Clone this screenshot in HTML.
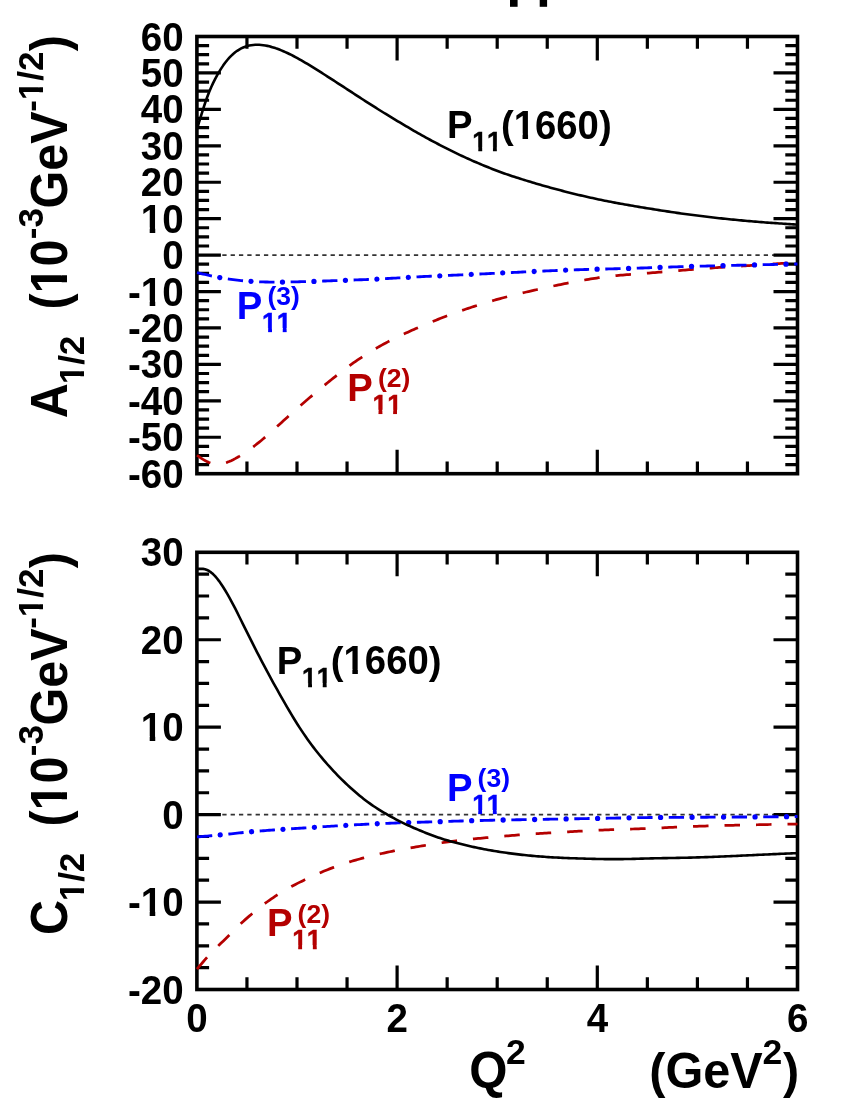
<!DOCTYPE html>
<html><head><meta charset="utf-8"><title>plot</title>
<style>
html,body{margin:0;padding:0;background:#fff;}
svg{display:block;will-change:transform;font-family:"Liberation Sans",sans-serif;font-weight:bold;font-kerning:none;}
</style></head><body>
<svg width="850" height="1100" viewBox="0 0 850 1100">
<rect width="850" height="1100" fill="#fff"/>
<path d="M196.9 255.10H797.5" stroke="#333" stroke-width="1.6" stroke-dasharray="4.3 4.03" stroke-dashoffset="-0.4" fill="none"/>
<path d="M196.9 814.62H797.5" stroke="#333" stroke-width="1.6" stroke-dasharray="4.3 4.03" stroke-dashoffset="-0.4" fill="none"/>
<rect x="196.9" y="36.5" width="600.6" height="437.2" fill="none" stroke="#000" stroke-width="3.6"/>
<path d="M196.9 45.61h12.2M797.5 45.61h-12.2M196.9 54.72h12.2M797.5 54.72h-12.2M196.9 63.83h12.2M797.5 63.83h-12.2M196.9 72.93h24.0M797.5 72.93h-24.0M196.9 82.04h12.2M797.5 82.04h-12.2M196.9 91.15h12.2M797.5 91.15h-12.2M196.9 100.26h12.2M797.5 100.26h-12.2M196.9 109.37h24.0M797.5 109.37h-24.0M196.9 118.47h12.2M797.5 118.47h-12.2M196.9 127.58h12.2M797.5 127.58h-12.2M196.9 136.69h12.2M797.5 136.69h-12.2M196.9 145.80h24.0M797.5 145.80h-24.0M196.9 154.91h12.2M797.5 154.91h-12.2M196.9 164.02h12.2M797.5 164.02h-12.2M196.9 173.12h12.2M797.5 173.12h-12.2M196.9 182.23h24.0M797.5 182.23h-24.0M196.9 191.34h12.2M797.5 191.34h-12.2M196.9 200.45h12.2M797.5 200.45h-12.2M196.9 209.56h12.2M797.5 209.56h-12.2M196.9 218.67h24.0M797.5 218.67h-24.0M196.9 227.77h12.2M797.5 227.77h-12.2M196.9 236.88h12.2M797.5 236.88h-12.2M196.9 245.99h12.2M797.5 245.99h-12.2M196.9 255.10h24.0M797.5 255.10h-24.0M196.9 264.21h12.2M797.5 264.21h-12.2M196.9 273.32h12.2M797.5 273.32h-12.2M196.9 282.42h12.2M797.5 282.42h-12.2M196.9 291.53h24.0M797.5 291.53h-24.0M196.9 300.64h12.2M797.5 300.64h-12.2M196.9 309.75h12.2M797.5 309.75h-12.2M196.9 318.86h12.2M797.5 318.86h-12.2M196.9 327.97h24.0M797.5 327.97h-24.0M196.9 337.07h12.2M797.5 337.07h-12.2M196.9 346.18h12.2M797.5 346.18h-12.2M196.9 355.29h12.2M797.5 355.29h-12.2M196.9 364.40h24.0M797.5 364.40h-24.0M196.9 373.51h12.2M797.5 373.51h-12.2M196.9 382.62h12.2M797.5 382.62h-12.2M196.9 391.72h12.2M797.5 391.72h-12.2M196.9 400.83h24.0M797.5 400.83h-24.0M196.9 409.94h12.2M797.5 409.94h-12.2M196.9 419.05h12.2M797.5 419.05h-12.2M196.9 428.16h12.2M797.5 428.16h-12.2M196.9 437.27h24.0M797.5 437.27h-24.0M196.9 446.38h12.2M797.5 446.38h-12.2M196.9 455.48h12.2M797.5 455.48h-12.2M196.9 464.59h12.2M797.5 464.59h-12.2M246.95 36.5v12.2M246.95 473.7v-12.2M297.00 36.5v12.2M297.00 473.7v-12.2M347.05 36.5v12.2M347.05 473.7v-12.2M397.10 36.5v24.0M397.10 473.7v-24.0M447.15 36.5v12.2M447.15 473.7v-12.2M497.20 36.5v12.2M497.20 473.7v-12.2M547.25 36.5v12.2M547.25 473.7v-12.2M597.30 36.5v24.0M597.30 473.7v-24.0M647.35 36.5v12.2M647.35 473.7v-12.2M697.40 36.5v12.2M697.40 473.7v-12.2M747.45 36.5v12.2M747.45 473.7v-12.2" stroke="#000" stroke-width="3.2" fill="none"/>
<rect x="196.9" y="552.3" width="600.6" height="437.20000000000005" fill="none" stroke="#000" stroke-width="3.6"/>
<path d="M196.9 574.16h12.2M797.5 574.16h-12.2M196.9 596.02h12.2M797.5 596.02h-12.2M196.9 617.88h12.2M797.5 617.88h-12.2M196.9 639.74h24.0M797.5 639.74h-24.0M196.9 661.60h12.2M797.5 661.60h-12.2M196.9 683.46h12.2M797.5 683.46h-12.2M196.9 705.32h12.2M797.5 705.32h-12.2M196.9 727.18h24.0M797.5 727.18h-24.0M196.9 749.04h12.2M797.5 749.04h-12.2M196.9 770.90h12.2M797.5 770.90h-12.2M196.9 792.76h12.2M797.5 792.76h-12.2M196.9 814.62h24.0M797.5 814.62h-24.0M196.9 836.48h12.2M797.5 836.48h-12.2M196.9 858.34h12.2M797.5 858.34h-12.2M196.9 880.20h12.2M797.5 880.20h-12.2M196.9 902.06h24.0M797.5 902.06h-24.0M196.9 923.92h12.2M797.5 923.92h-12.2M196.9 945.78h12.2M797.5 945.78h-12.2M196.9 967.64h12.2M797.5 967.64h-12.2M246.95 552.3v12.2M246.95 989.5v-12.2M297.00 552.3v12.2M297.00 989.5v-12.2M347.05 552.3v12.2M347.05 989.5v-12.2M397.10 552.3v24.0M397.10 989.5v-24.0M447.15 552.3v12.2M447.15 989.5v-12.2M497.20 552.3v12.2M497.20 989.5v-12.2M547.25 552.3v12.2M547.25 989.5v-12.2M597.30 552.3v24.0M597.30 989.5v-24.0M647.35 552.3v12.2M647.35 989.5v-12.2M697.40 552.3v12.2M697.40 989.5v-12.2M747.45 552.3v12.2M747.45 989.5v-12.2" stroke="#000" stroke-width="3.2" fill="none"/>
<clipPath id="cu"><rect x="195.4" y="36.5" width="603.6" height="437.2"/></clipPath>
<clipPath id="cl"><rect x="195.4" y="552.3" width="603.6" height="437.20000000000005"/></clipPath>
<g clip-path="url(#cu)">
<path d="M197.00 455.25 L199.01 456.69 L201.02 458.08 L203.03 459.39 L205.03 460.58 L207.04 461.63 L209.05 462.52 L211.06 463.22 L213.07 463.74 L215.08 464.07 L217.08 464.21 L219.09 464.16 L221.10 463.94 L223.11 463.55 L225.12 463.01 L227.13 462.33 L229.13 461.54 L231.14 460.64 L233.15 459.67 L235.16 458.63 L237.17 457.53 L239.18 456.37 L241.18 455.15 L243.19 453.89 L245.20 452.57 L247.21 451.20 L249.22 449.79 L251.23 448.33 L253.23 446.83 L255.24 445.28 L257.25 443.70 L259.26 442.09 L261.27 440.44 L263.28 438.75 L265.28 437.04 L267.29 435.30 L269.30 433.54 L271.31 431.76 L273.32 429.96 L275.33 428.15 L277.33 426.33 L279.34 424.50 L281.35 422.67 L283.36 420.84 L285.37 419.01 L287.38 417.19 L289.38 415.37 L291.39 413.55 L293.40 411.75 L295.41 409.96 L297.42 408.18 L299.43 406.42 L301.43 404.67 L303.44 402.94 L305.45 401.22 L307.46 399.52 L309.47 397.82 L311.48 396.12 L313.48 394.43 L315.49 392.75 L317.50 391.07 L319.51 389.39 L321.52 387.72 L323.53 386.06 L325.54 384.41 L327.54 382.77 L329.55 381.14 L331.56 379.52 L333.57 377.91 L335.58 376.32 L337.59 374.73 L339.59 373.17 L341.60 371.61 L343.61 370.08 L345.62 368.56 L347.63 367.07 L349.64 365.60 L351.64 364.16 L353.65 362.74 L355.66 361.34 L357.67 359.97 L359.68 358.62 L361.69 357.29 L363.69 355.98 L365.70 354.69 L367.71 353.43 L369.72 352.19 L371.73 350.96 L373.74 349.76 L375.74 348.57 L377.75 347.40 L379.76 346.25 L381.77 345.12 L383.78 344.02 L385.79 342.93 L387.79 341.86 L389.80 340.82 L391.81 339.80 L393.82 338.79 L395.83 337.81 L397.84 336.84 L399.84 335.88 L401.85 334.94 L403.86 334.01 L405.87 333.08 L407.88 332.17 L409.89 331.26 L411.89 330.36 L413.90 329.48 L415.91 328.59 L417.92 327.72 L419.93 326.85 L421.94 325.99 L423.94 325.14 L425.95 324.30 L427.96 323.46 L429.97 322.63 L431.98 321.80 L433.99 320.98 L435.99 320.17 L438.00 319.37 L440.01 318.57 L442.02 317.78 L444.03 317.00 L446.04 316.23 L448.05 315.47 L450.05 314.72 L452.06 313.98 L454.07 313.25 L456.08 312.53 L458.09 311.81 L460.10 311.11 L462.10 310.41 L464.11 309.72 L466.12 309.04 L468.13 308.37 L470.14 307.70 L472.15 307.04 L474.15 306.39 L476.16 305.75 L478.17 305.11 L480.18 304.48 L482.19 303.85 L484.20 303.23 L486.20 302.62 L488.21 302.02 L490.22 301.43 L492.23 300.84 L494.24 300.26 L496.25 299.69 L498.25 299.13 L500.26 298.58 L502.27 298.03 L504.28 297.49 L506.29 296.96 L508.30 296.44 L510.30 295.92 L512.31 295.41 L514.32 294.91 L516.33 294.41 L518.34 293.92 L520.35 293.44 L522.35 292.96 L524.36 292.48 L526.37 292.01 L528.38 291.54 L530.39 291.08 L532.40 290.62 L534.40 290.17 L536.41 289.72 L538.42 289.26 L540.43 288.82 L542.44 288.37 L544.45 287.93 L546.45 287.49 L548.46 287.05 L550.47 286.62 L552.48 286.19 L554.49 285.77 L556.50 285.35 L558.51 284.93 L560.51 284.53 L562.52 284.12 L564.53 283.72 L566.54 283.33 L568.55 282.94 L570.56 282.56 L572.56 282.18 L574.57 281.81 L576.58 281.44 L578.59 281.07 L580.60 280.71 L582.61 280.36 L584.61 280.00 L586.62 279.66 L588.63 279.31 L590.64 278.98 L592.65 278.65 L594.66 278.33 L596.66 278.02 L598.67 277.72 L600.68 277.44 L602.69 277.16 L604.70 276.90 L606.71 276.65 L608.71 276.41 L610.72 276.18 L612.73 275.97 L614.74 275.76 L616.75 275.56 L618.76 275.38 L620.76 275.20 L622.77 275.03 L624.78 274.86 L626.79 274.70 L628.80 274.55 L630.81 274.39 L632.81 274.24 L634.82 274.08 L636.83 273.93 L638.84 273.78 L640.85 273.63 L642.86 273.47 L644.86 273.32 L646.87 273.16 L648.88 273.01 L650.89 272.85 L652.90 272.69 L654.91 272.52 L656.91 272.36 L658.92 272.20 L660.93 272.03 L662.94 271.86 L664.95 271.69 L666.96 271.53 L668.96 271.36 L670.97 271.19 L672.98 271.02 L674.99 270.85 L677.00 270.68 L679.01 270.52 L681.02 270.35 L683.02 270.19 L685.03 270.03 L687.04 269.87 L689.05 269.71 L691.06 269.55 L693.07 269.39 L695.07 269.24 L697.08 269.08 L699.09 268.93 L701.10 268.78 L703.11 268.63 L705.12 268.48 L707.12 268.33 L709.13 268.18 L711.14 268.04 L713.15 267.89 L715.16 267.75 L717.17 267.61 L719.17 267.47 L721.18 267.34 L723.19 267.20 L725.20 267.07 L727.21 266.94 L729.22 266.82 L731.22 266.69 L733.23 266.57 L735.24 266.45 L737.25 266.33 L739.26 266.21 L741.27 266.08 L743.27 265.96 L745.28 265.83 L747.29 265.70 L749.30 265.58 L751.31 265.45 L753.32 265.31 L755.32 265.18 L757.33 265.05 L759.34 264.92 L761.35 264.78 L763.36 264.65 L765.37 264.52 L767.37 264.38 L769.38 264.25 L771.39 264.12 L773.40 263.98 L775.41 263.85 L777.42 263.72 L779.42 263.60 L781.43 263.47 L783.44 263.34 L785.45 263.22 L787.46 263.10 L789.47 262.97 L791.47 262.85 L793.48 262.73 L795.49 262.62 L797.50 262.50" stroke="#b40000" stroke-width="2.75" stroke-dasharray="15.5 16" fill="none" stroke-linejoin="round"/>
<path d="M197.00 272.61 L199.01 273.09 L201.02 273.56 L203.03 274.02 L205.03 274.48 L207.04 274.94 L209.05 275.39 L211.06 275.83 L213.07 276.25 L215.08 276.67 L217.08 277.07 L219.09 277.46 L221.10 277.83 L223.11 278.18 L225.12 278.51 L227.13 278.83 L229.13 279.13 L231.14 279.42 L233.15 279.69 L235.16 279.94 L237.17 280.18 L239.18 280.40 L241.18 280.61 L243.19 280.80 L245.20 280.97 L247.21 281.14 L249.22 281.28 L251.23 281.42 L253.23 281.54 L255.24 281.64 L257.25 281.74 L259.26 281.82 L261.27 281.89 L263.28 281.94 L265.28 281.99 L267.29 282.03 L269.30 282.06 L271.31 282.08 L273.32 282.09 L275.33 282.10 L277.33 282.10 L279.34 282.09 L281.35 282.07 L283.36 282.05 L285.37 282.03 L287.38 282.00 L289.38 281.97 L291.39 281.93 L293.40 281.89 L295.41 281.85 L297.42 281.80 L299.43 281.76 L301.43 281.70 L303.44 281.65 L305.45 281.59 L307.46 281.53 L309.47 281.47 L311.48 281.41 L313.48 281.35 L315.49 281.29 L317.50 281.22 L319.51 281.16 L321.52 281.09 L323.53 281.02 L325.54 280.96 L327.54 280.89 L329.55 280.82 L331.56 280.75 L333.57 280.69 L335.58 280.62 L337.59 280.55 L339.59 280.48 L341.60 280.41 L343.61 280.34 L345.62 280.28 L347.63 280.21 L349.64 280.14 L351.64 280.07 L353.65 280.00 L355.66 279.94 L357.67 279.87 L359.68 279.79 L361.69 279.72 L363.69 279.65 L365.70 279.57 L367.71 279.49 L369.72 279.41 L371.73 279.32 L373.74 279.23 L375.74 279.14 L377.75 279.04 L379.76 278.94 L381.77 278.84 L383.78 278.73 L385.79 278.62 L387.79 278.51 L389.80 278.40 L391.81 278.28 L393.82 278.16 L395.83 278.05 L397.84 277.93 L399.84 277.81 L401.85 277.70 L403.86 277.58 L405.87 277.47 L407.88 277.35 L409.89 277.24 L411.89 277.13 L413.90 277.03 L415.91 276.92 L417.92 276.82 L419.93 276.72 L421.94 276.62 L423.94 276.53 L425.95 276.43 L427.96 276.34 L429.97 276.24 L431.98 276.15 L433.99 276.06 L435.99 275.97 L438.00 275.88 L440.01 275.79 L442.02 275.70 L444.03 275.61 L446.04 275.52 L448.05 275.43 L450.05 275.34 L452.06 275.25 L454.07 275.17 L456.08 275.08 L458.09 274.99 L460.10 274.90 L462.10 274.81 L464.11 274.72 L466.12 274.63 L468.13 274.54 L470.14 274.45 L472.15 274.36 L474.15 274.27 L476.16 274.17 L478.17 274.08 L480.18 273.99 L482.19 273.89 L484.20 273.80 L486.20 273.71 L488.21 273.61 L490.22 273.52 L492.23 273.42 L494.24 273.33 L496.25 273.24 L498.25 273.14 L500.26 273.05 L502.27 272.95 L504.28 272.86 L506.29 272.77 L508.30 272.67 L510.30 272.58 L512.31 272.49 L514.32 272.40 L516.33 272.30 L518.34 272.21 L520.35 272.12 L522.35 272.03 L524.36 271.93 L526.37 271.84 L528.38 271.75 L530.39 271.66 L532.40 271.57 L534.40 271.48 L536.41 271.39 L538.42 271.30 L540.43 271.21 L542.44 271.12 L544.45 271.03 L546.45 270.94 L548.46 270.85 L550.47 270.76 L552.48 270.68 L554.49 270.59 L556.50 270.51 L558.51 270.43 L560.51 270.35 L562.52 270.27 L564.53 270.20 L566.54 270.12 L568.55 270.05 L570.56 269.98 L572.56 269.91 L574.57 269.85 L576.58 269.78 L578.59 269.72 L580.60 269.66 L582.61 269.60 L584.61 269.54 L586.62 269.49 L588.63 269.43 L590.64 269.38 L592.65 269.33 L594.66 269.27 L596.66 269.22 L598.67 269.17 L600.68 269.12 L602.69 269.07 L604.70 269.03 L606.71 268.98 L608.71 268.93 L610.72 268.88 L612.73 268.84 L614.74 268.79 L616.75 268.74 L618.76 268.69 L620.76 268.64 L622.77 268.59 L624.78 268.53 L626.79 268.48 L628.80 268.42 L630.81 268.36 L632.81 268.30 L634.82 268.23 L636.83 268.16 L638.84 268.10 L640.85 268.03 L642.86 267.96 L644.86 267.89 L646.87 267.82 L648.88 267.75 L650.89 267.67 L652.90 267.60 L654.91 267.53 L656.91 267.46 L658.92 267.39 L660.93 267.32 L662.94 267.26 L664.95 267.19 L666.96 267.13 L668.96 267.06 L670.97 267.00 L672.98 266.94 L674.99 266.88 L677.00 266.82 L679.01 266.76 L681.02 266.70 L683.02 266.64 L685.03 266.58 L687.04 266.53 L689.05 266.47 L691.06 266.42 L693.07 266.36 L695.07 266.31 L697.08 266.25 L699.09 266.20 L701.10 266.15 L703.11 266.10 L705.12 266.05 L707.12 265.99 L709.13 265.94 L711.14 265.89 L713.15 265.84 L715.16 265.80 L717.17 265.75 L719.17 265.70 L721.18 265.65 L723.19 265.60 L725.20 265.56 L727.21 265.51 L729.22 265.46 L731.22 265.42 L733.23 265.37 L735.24 265.32 L737.25 265.28 L739.26 265.23 L741.27 265.19 L743.27 265.14 L745.28 265.10 L747.29 265.05 L749.30 265.01 L751.31 264.96 L753.32 264.92 L755.32 264.88 L757.33 264.83 L759.34 264.79 L761.35 264.74 L763.36 264.70 L765.37 264.66 L767.37 264.61 L769.38 264.57 L771.39 264.53 L773.40 264.48 L775.41 264.44 L777.42 264.40 L779.42 264.36 L781.43 264.32 L783.44 264.27 L785.45 264.23 L787.46 264.19 L789.47 264.15 L791.47 264.12 L793.48 264.08 L795.49 264.04 L797.50 264.00" stroke="#0000ff" stroke-width="2.85" stroke-dasharray="15.3 16.19" fill="none" stroke-linejoin="round"/>
<path d="M197.00 272.61 L199.01 273.09 L201.02 273.56 L203.03 274.02 L205.03 274.48 L207.04 274.94 L209.05 275.39 L211.06 275.83 L213.07 276.25 L215.08 276.67 L217.08 277.07 L219.09 277.46 L221.10 277.83 L223.11 278.18 L225.12 278.51 L227.13 278.83 L229.13 279.13 L231.14 279.42 L233.15 279.69 L235.16 279.94 L237.17 280.18 L239.18 280.40 L241.18 280.61 L243.19 280.80 L245.20 280.97 L247.21 281.14 L249.22 281.28 L251.23 281.42 L253.23 281.54 L255.24 281.64 L257.25 281.74 L259.26 281.82 L261.27 281.89 L263.28 281.94 L265.28 281.99 L267.29 282.03 L269.30 282.06 L271.31 282.08 L273.32 282.09 L275.33 282.10 L277.33 282.10 L279.34 282.09 L281.35 282.07 L283.36 282.05 L285.37 282.03 L287.38 282.00 L289.38 281.97 L291.39 281.93 L293.40 281.89 L295.41 281.85 L297.42 281.80 L299.43 281.76 L301.43 281.70 L303.44 281.65 L305.45 281.59 L307.46 281.53 L309.47 281.47 L311.48 281.41 L313.48 281.35 L315.49 281.29 L317.50 281.22 L319.51 281.16 L321.52 281.09 L323.53 281.02 L325.54 280.96 L327.54 280.89 L329.55 280.82 L331.56 280.75 L333.57 280.69 L335.58 280.62 L337.59 280.55 L339.59 280.48 L341.60 280.41 L343.61 280.34 L345.62 280.28 L347.63 280.21 L349.64 280.14 L351.64 280.07 L353.65 280.00 L355.66 279.94 L357.67 279.87 L359.68 279.79 L361.69 279.72 L363.69 279.65 L365.70 279.57 L367.71 279.49 L369.72 279.41 L371.73 279.32 L373.74 279.23 L375.74 279.14 L377.75 279.04 L379.76 278.94 L381.77 278.84 L383.78 278.73 L385.79 278.62 L387.79 278.51 L389.80 278.40 L391.81 278.28 L393.82 278.16 L395.83 278.05 L397.84 277.93 L399.84 277.81 L401.85 277.70 L403.86 277.58 L405.87 277.47 L407.88 277.35 L409.89 277.24 L411.89 277.13 L413.90 277.03 L415.91 276.92 L417.92 276.82 L419.93 276.72 L421.94 276.62 L423.94 276.53 L425.95 276.43 L427.96 276.34 L429.97 276.24 L431.98 276.15 L433.99 276.06 L435.99 275.97 L438.00 275.88 L440.01 275.79 L442.02 275.70 L444.03 275.61 L446.04 275.52 L448.05 275.43 L450.05 275.34 L452.06 275.25 L454.07 275.17 L456.08 275.08 L458.09 274.99 L460.10 274.90 L462.10 274.81 L464.11 274.72 L466.12 274.63 L468.13 274.54 L470.14 274.45 L472.15 274.36 L474.15 274.27 L476.16 274.17 L478.17 274.08 L480.18 273.99 L482.19 273.89 L484.20 273.80 L486.20 273.71 L488.21 273.61 L490.22 273.52 L492.23 273.42 L494.24 273.33 L496.25 273.24 L498.25 273.14 L500.26 273.05 L502.27 272.95 L504.28 272.86 L506.29 272.77 L508.30 272.67 L510.30 272.58 L512.31 272.49 L514.32 272.40 L516.33 272.30 L518.34 272.21 L520.35 272.12 L522.35 272.03 L524.36 271.93 L526.37 271.84 L528.38 271.75 L530.39 271.66 L532.40 271.57 L534.40 271.48 L536.41 271.39 L538.42 271.30 L540.43 271.21 L542.44 271.12 L544.45 271.03 L546.45 270.94 L548.46 270.85 L550.47 270.76 L552.48 270.68 L554.49 270.59 L556.50 270.51 L558.51 270.43 L560.51 270.35 L562.52 270.27 L564.53 270.20 L566.54 270.12 L568.55 270.05 L570.56 269.98 L572.56 269.91 L574.57 269.85 L576.58 269.78 L578.59 269.72 L580.60 269.66 L582.61 269.60 L584.61 269.54 L586.62 269.49 L588.63 269.43 L590.64 269.38 L592.65 269.33 L594.66 269.27 L596.66 269.22 L598.67 269.17 L600.68 269.12 L602.69 269.07 L604.70 269.03 L606.71 268.98 L608.71 268.93 L610.72 268.88 L612.73 268.84 L614.74 268.79 L616.75 268.74 L618.76 268.69 L620.76 268.64 L622.77 268.59 L624.78 268.53 L626.79 268.48 L628.80 268.42 L630.81 268.36 L632.81 268.30 L634.82 268.23 L636.83 268.16 L638.84 268.10 L640.85 268.03 L642.86 267.96 L644.86 267.89 L646.87 267.82 L648.88 267.75 L650.89 267.67 L652.90 267.60 L654.91 267.53 L656.91 267.46 L658.92 267.39 L660.93 267.32 L662.94 267.26 L664.95 267.19 L666.96 267.13 L668.96 267.06 L670.97 267.00 L672.98 266.94 L674.99 266.88 L677.00 266.82 L679.01 266.76 L681.02 266.70 L683.02 266.64 L685.03 266.58 L687.04 266.53 L689.05 266.47 L691.06 266.42 L693.07 266.36 L695.07 266.31 L697.08 266.25 L699.09 266.20 L701.10 266.15 L703.11 266.10 L705.12 266.05 L707.12 265.99 L709.13 265.94 L711.14 265.89 L713.15 265.84 L715.16 265.80 L717.17 265.75 L719.17 265.70 L721.18 265.65 L723.19 265.60 L725.20 265.56 L727.21 265.51 L729.22 265.46 L731.22 265.42 L733.23 265.37 L735.24 265.32 L737.25 265.28 L739.26 265.23 L741.27 265.19 L743.27 265.14 L745.28 265.10 L747.29 265.05 L749.30 265.01 L751.31 264.96 L753.32 264.92 L755.32 264.88 L757.33 264.83 L759.34 264.79 L761.35 264.74 L763.36 264.70 L765.37 264.66 L767.37 264.61 L769.38 264.57 L771.39 264.53 L773.40 264.48 L775.41 264.44 L777.42 264.40 L779.42 264.36 L781.43 264.32 L783.44 264.27 L785.45 264.23 L787.46 264.19 L789.47 264.15 L791.47 264.12 L793.48 264.08 L795.49 264.04 L797.50 264.00" stroke="#0000ff" stroke-width="5.3" stroke-linecap="round" stroke-dasharray="0.01 31.48" stroke-dashoffset="-23.3" fill="none"/>
<path d="M197.00 129.19 L199.01 122.47 L201.02 115.82 L203.03 109.37 L205.03 103.25 L207.04 97.55 L209.05 92.29 L211.06 87.50 L213.07 83.12 L215.08 79.09 L217.08 75.35 L219.09 71.87 L221.10 68.63 L223.11 65.61 L225.12 62.82 L227.13 60.26 L229.13 57.94 L231.14 55.84 L233.15 53.96 L235.16 52.29 L237.17 50.81 L239.18 49.53 L241.18 48.42 L243.19 47.48 L245.20 46.70 L247.21 46.06 L249.22 45.56 L251.23 45.18 L253.23 44.93 L255.24 44.78 L257.25 44.74 L259.26 44.79 L261.27 44.94 L263.28 45.18 L265.28 45.49 L267.29 45.89 L269.30 46.35 L271.31 46.88 L273.32 47.46 L275.33 48.11 L277.33 48.81 L279.34 49.56 L281.35 50.36 L283.36 51.20 L285.37 52.08 L287.38 53.00 L289.38 53.96 L291.39 54.96 L293.40 55.99 L295.41 57.06 L297.42 58.15 L299.43 59.27 L301.43 60.41 L303.44 61.58 L305.45 62.77 L307.46 63.97 L309.47 65.19 L311.48 66.42 L313.48 67.66 L315.49 68.91 L317.50 70.17 L319.51 71.43 L321.52 72.70 L323.53 73.98 L325.54 75.26 L327.54 76.55 L329.55 77.84 L331.56 79.14 L333.57 80.43 L335.58 81.74 L337.59 83.04 L339.59 84.35 L341.60 85.65 L343.61 86.96 L345.62 88.27 L347.63 89.58 L349.64 90.89 L351.64 92.20 L353.65 93.51 L355.66 94.81 L357.67 96.12 L359.68 97.42 L361.69 98.72 L363.69 100.02 L365.70 101.31 L367.71 102.60 L369.72 103.89 L371.73 105.17 L373.74 106.45 L375.74 107.72 L377.75 108.99 L379.76 110.25 L381.77 111.50 L383.78 112.74 L385.79 113.98 L387.79 115.21 L389.80 116.43 L391.81 117.65 L393.82 118.85 L395.83 120.06 L397.84 121.26 L399.84 122.45 L401.85 123.65 L403.86 124.84 L405.87 126.04 L407.88 127.23 L409.89 128.41 L411.89 129.59 L413.90 130.76 L415.91 131.91 L417.92 133.06 L419.93 134.20 L421.94 135.33 L423.94 136.44 L425.95 137.55 L427.96 138.65 L429.97 139.74 L431.98 140.82 L433.99 141.89 L435.99 142.96 L438.00 144.02 L440.01 145.07 L442.02 146.11 L444.03 147.15 L446.04 148.18 L448.05 149.19 L450.05 150.20 L452.06 151.19 L454.07 152.18 L456.08 153.15 L458.09 154.12 L460.10 155.07 L462.10 156.01 L464.11 156.94 L466.12 157.87 L468.13 158.78 L470.14 159.68 L472.15 160.57 L474.15 161.45 L476.16 162.31 L478.17 163.17 L480.18 164.02 L482.19 164.86 L484.20 165.70 L486.20 166.52 L488.21 167.33 L490.22 168.14 L492.23 168.93 L494.24 169.71 L496.25 170.48 L498.25 171.23 L500.26 171.98 L502.27 172.70 L504.28 173.42 L506.29 174.12 L508.30 174.81 L510.30 175.49 L512.31 176.16 L514.32 176.81 L516.33 177.46 L518.34 178.11 L520.35 178.74 L522.35 179.37 L524.36 180.00 L526.37 180.62 L528.38 181.24 L530.39 181.84 L532.40 182.45 L534.40 183.04 L536.41 183.64 L538.42 184.22 L540.43 184.80 L542.44 185.38 L544.45 185.95 L546.45 186.52 L548.46 187.08 L550.47 187.64 L552.48 188.19 L554.49 188.74 L556.50 189.28 L558.51 189.82 L560.51 190.35 L562.52 190.88 L564.53 191.40 L566.54 191.91 L568.55 192.42 L570.56 192.92 L572.56 193.42 L574.57 193.92 L576.58 194.40 L578.59 194.89 L580.60 195.36 L582.61 195.83 L584.61 196.30 L586.62 196.76 L588.63 197.21 L590.64 197.66 L592.65 198.10 L594.66 198.54 L596.66 198.98 L598.67 199.40 L600.68 199.83 L602.69 200.24 L604.70 200.65 L606.71 201.05 L608.71 201.45 L610.72 201.84 L612.73 202.22 L614.74 202.60 L616.75 202.98 L618.76 203.35 L620.76 203.71 L622.77 204.08 L624.78 204.43 L626.79 204.79 L628.80 205.14 L630.81 205.49 L632.81 205.83 L634.82 206.17 L636.83 206.51 L638.84 206.85 L640.85 207.18 L642.86 207.51 L644.86 207.85 L646.87 208.17 L648.88 208.50 L650.89 208.82 L652.90 209.15 L654.91 209.47 L656.91 209.79 L658.92 210.11 L660.93 210.42 L662.94 210.73 L664.95 211.04 L666.96 211.35 L668.96 211.65 L670.97 211.95 L672.98 212.25 L674.99 212.55 L677.00 212.84 L679.01 213.13 L681.02 213.42 L683.02 213.70 L685.03 213.98 L687.04 214.25 L689.05 214.53 L691.06 214.79 L693.07 215.06 L695.07 215.32 L697.08 215.58 L699.09 215.83 L701.10 216.08 L703.11 216.33 L705.12 216.57 L707.12 216.81 L709.13 217.04 L711.14 217.28 L713.15 217.51 L715.16 217.73 L717.17 217.95 L719.17 218.18 L721.18 218.39 L723.19 218.61 L725.20 218.82 L727.21 219.03 L729.22 219.23 L731.22 219.44 L733.23 219.64 L735.24 219.83 L737.25 220.03 L739.26 220.22 L741.27 220.41 L743.27 220.59 L745.28 220.78 L747.29 220.96 L749.30 221.13 L751.31 221.31 L753.32 221.48 L755.32 221.65 L757.33 221.81 L759.34 221.97 L761.35 222.13 L763.36 222.29 L765.37 222.44 L767.37 222.59 L769.38 222.74 L771.39 222.88 L773.40 223.02 L775.41 223.16 L777.42 223.30 L779.42 223.43 L781.43 223.56 L783.44 223.70 L785.45 223.83 L787.46 223.96 L789.47 224.09 L791.47 224.21 L793.48 224.34 L795.49 224.47 L797.50 224.60" stroke="#000" stroke-width="2.6" fill="none" stroke-linejoin="round"/>
</g>
<g clip-path="url(#cl)">
<path d="M197.00 969.12 L199.01 966.73 L201.02 964.36 L203.03 962.01 L205.03 959.71 L207.04 957.45 L209.05 955.26 L211.06 953.12 L213.07 951.04 L215.08 949.01 L217.08 947.01 L219.09 945.04 L221.10 943.09 L223.11 941.14 L225.12 939.19 L227.13 937.24 L229.13 935.26 L231.14 933.26 L233.15 931.24 L235.16 929.22 L237.17 927.21 L239.18 925.24 L241.18 923.31 L243.19 921.45 L245.20 919.63 L247.21 917.86 L249.22 916.13 L251.23 914.43 L253.23 912.75 L255.24 911.09 L257.25 909.45 L259.26 907.85 L261.27 906.27 L263.28 904.72 L265.28 903.21 L267.29 901.74 L269.30 900.30 L271.31 898.90 L273.32 897.53 L275.33 896.19 L277.33 894.88 L279.34 893.60 L281.35 892.35 L283.36 891.13 L285.37 889.94 L287.38 888.78 L289.38 887.65 L291.39 886.54 L293.40 885.47 L295.41 884.42 L297.42 883.39 L299.43 882.39 L301.43 881.40 L303.44 880.42 L305.45 879.46 L307.46 878.50 L309.47 877.56 L311.48 876.62 L313.48 875.70 L315.49 874.79 L317.50 873.90 L319.51 873.02 L321.52 872.16 L323.53 871.32 L325.54 870.50 L327.54 869.69 L329.55 868.90 L331.56 868.13 L333.57 867.37 L335.58 866.64 L337.59 865.92 L339.59 865.21 L341.60 864.52 L343.61 863.85 L345.62 863.19 L347.63 862.55 L349.64 861.92 L351.64 861.30 L353.65 860.69 L355.66 860.10 L357.67 859.52 L359.68 858.95 L361.69 858.40 L363.69 857.86 L365.70 857.33 L367.71 856.81 L369.72 856.31 L371.73 855.82 L373.74 855.33 L375.74 854.86 L377.75 854.40 L379.76 853.94 L381.77 853.49 L383.78 853.05 L385.79 852.62 L387.79 852.19 L389.80 851.77 L391.81 851.36 L393.82 850.95 L395.83 850.56 L397.84 850.17 L399.84 849.79 L401.85 849.41 L403.86 849.04 L405.87 848.68 L407.88 848.32 L409.89 847.97 L411.89 847.61 L413.90 847.27 L415.91 846.92 L417.92 846.58 L419.93 846.24 L421.94 845.91 L423.94 845.57 L425.95 845.24 L427.96 844.92 L429.97 844.59 L431.98 844.27 L433.99 843.96 L435.99 843.65 L438.00 843.34 L440.01 843.04 L442.02 842.74 L444.03 842.45 L446.04 842.16 L448.05 841.88 L450.05 841.61 L452.06 841.34 L454.07 841.08 L456.08 840.83 L458.09 840.58 L460.10 840.34 L462.10 840.11 L464.11 839.88 L466.12 839.66 L468.13 839.45 L470.14 839.24 L472.15 839.04 L474.15 838.84 L476.16 838.65 L478.17 838.46 L480.18 838.28 L482.19 838.09 L484.20 837.91 L486.20 837.74 L488.21 837.56 L490.22 837.38 L492.23 837.20 L494.24 837.03 L496.25 836.85 L498.25 836.68 L500.26 836.50 L502.27 836.33 L504.28 836.16 L506.29 835.98 L508.30 835.81 L510.30 835.64 L512.31 835.47 L514.32 835.31 L516.33 835.14 L518.34 834.98 L520.35 834.83 L522.35 834.68 L524.36 834.53 L526.37 834.39 L528.38 834.25 L530.39 834.11 L532.40 833.98 L534.40 833.84 L536.41 833.71 L538.42 833.58 L540.43 833.45 L542.44 833.32 L544.45 833.20 L546.45 833.07 L548.46 832.95 L550.47 832.83 L552.48 832.71 L554.49 832.59 L556.50 832.47 L558.51 832.36 L560.51 832.24 L562.52 832.13 L564.53 832.02 L566.54 831.91 L568.55 831.80 L570.56 831.68 L572.56 831.57 L574.57 831.46 L576.58 831.35 L578.59 831.24 L580.60 831.14 L582.61 831.03 L584.61 830.92 L586.62 830.82 L588.63 830.71 L590.64 830.61 L592.65 830.51 L594.66 830.41 L596.66 830.32 L598.67 830.22 L600.68 830.13 L602.69 830.04 L604.70 829.96 L606.71 829.88 L608.71 829.80 L610.72 829.72 L612.73 829.64 L614.74 829.57 L616.75 829.50 L618.76 829.44 L620.76 829.37 L622.77 829.31 L624.78 829.25 L626.79 829.19 L628.80 829.13 L630.81 829.06 L632.81 829.00 L634.82 828.94 L636.83 828.87 L638.84 828.80 L640.85 828.73 L642.86 828.66 L644.86 828.58 L646.87 828.50 L648.88 828.41 L650.89 828.32 L652.90 828.23 L654.91 828.14 L656.91 828.05 L658.92 827.95 L660.93 827.85 L662.94 827.76 L664.95 827.66 L666.96 827.56 L668.96 827.46 L670.97 827.36 L672.98 827.27 L674.99 827.17 L677.00 827.08 L679.01 826.99 L681.02 826.90 L683.02 826.82 L685.03 826.74 L687.04 826.66 L689.05 826.58 L691.06 826.50 L693.07 826.43 L695.07 826.36 L697.08 826.29 L699.09 826.22 L701.10 826.15 L703.11 826.09 L705.12 826.03 L707.12 825.97 L709.13 825.91 L711.14 825.85 L713.15 825.80 L715.16 825.74 L717.17 825.69 L719.17 825.63 L721.18 825.58 L723.19 825.53 L725.20 825.48 L727.21 825.43 L729.22 825.38 L731.22 825.33 L733.23 825.29 L735.24 825.24 L737.25 825.19 L739.26 825.15 L741.27 825.10 L743.27 825.06 L745.28 825.01 L747.29 824.97 L749.30 824.92 L751.31 824.88 L753.32 824.84 L755.32 824.79 L757.33 824.75 L759.34 824.71 L761.35 824.66 L763.36 824.62 L765.37 824.58 L767.37 824.54 L769.38 824.50 L771.39 824.46 L773.40 824.42 L775.41 824.38 L777.42 824.35 L779.42 824.31 L781.43 824.28 L783.44 824.24 L785.45 824.21 L787.46 824.17 L789.47 824.14 L791.47 824.11 L793.48 824.07 L795.49 824.04 L797.50 824.00" stroke="#b40000" stroke-width="2.75" stroke-dasharray="15.5 16" fill="none" stroke-linejoin="round"/>
<path d="M197.00 836.90 L199.01 836.74 L201.02 836.58 L203.03 836.42 L205.03 836.25 L207.04 836.08 L209.05 835.91 L211.06 835.74 L213.07 835.57 L215.08 835.39 L217.08 835.21 L219.09 835.02 L221.10 834.83 L223.11 834.63 L225.12 834.43 L227.13 834.22 L229.13 834.01 L231.14 833.80 L233.15 833.59 L235.16 833.38 L237.17 833.17 L239.18 832.95 L241.18 832.74 L243.19 832.54 L245.20 832.33 L247.21 832.13 L249.22 831.94 L251.23 831.75 L253.23 831.56 L255.24 831.39 L257.25 831.21 L259.26 831.05 L261.27 830.89 L263.28 830.73 L265.28 830.58 L267.29 830.43 L269.30 830.28 L271.31 830.14 L273.32 830.00 L275.33 829.86 L277.33 829.72 L279.34 829.59 L281.35 829.45 L283.36 829.32 L285.37 829.19 L287.38 829.06 L289.38 828.92 L291.39 828.79 L293.40 828.66 L295.41 828.53 L297.42 828.40 L299.43 828.27 L301.43 828.14 L303.44 828.01 L305.45 827.88 L307.46 827.75 L309.47 827.61 L311.48 827.48 L313.48 827.35 L315.49 827.22 L317.50 827.09 L319.51 826.96 L321.52 826.83 L323.53 826.70 L325.54 826.58 L327.54 826.45 L329.55 826.32 L331.56 826.19 L333.57 826.07 L335.58 825.94 L337.59 825.82 L339.59 825.70 L341.60 825.58 L343.61 825.46 L345.62 825.34 L347.63 825.22 L349.64 825.11 L351.64 825.00 L353.65 824.89 L355.66 824.78 L357.67 824.67 L359.68 824.57 L361.69 824.46 L363.69 824.36 L365.70 824.26 L367.71 824.17 L369.72 824.07 L371.73 823.98 L373.74 823.89 L375.74 823.80 L377.75 823.72 L379.76 823.63 L381.77 823.55 L383.78 823.47 L385.79 823.39 L387.79 823.31 L389.80 823.24 L391.81 823.17 L393.82 823.09 L395.83 823.02 L397.84 822.95 L399.84 822.88 L401.85 822.82 L403.86 822.75 L405.87 822.68 L407.88 822.62 L409.89 822.55 L411.89 822.49 L413.90 822.42 L415.91 822.36 L417.92 822.29 L419.93 822.23 L421.94 822.17 L423.94 822.10 L425.95 822.04 L427.96 821.98 L429.97 821.92 L431.98 821.85 L433.99 821.79 L435.99 821.73 L438.00 821.67 L440.01 821.61 L442.02 821.55 L444.03 821.49 L446.04 821.43 L448.05 821.37 L450.05 821.32 L452.06 821.26 L454.07 821.20 L456.08 821.14 L458.09 821.09 L460.10 821.03 L462.10 820.98 L464.11 820.92 L466.12 820.87 L468.13 820.82 L470.14 820.76 L472.15 820.71 L474.15 820.66 L476.16 820.61 L478.17 820.56 L480.18 820.51 L482.19 820.47 L484.20 820.42 L486.20 820.37 L488.21 820.33 L490.22 820.29 L492.23 820.24 L494.24 820.20 L496.25 820.16 L498.25 820.12 L500.26 820.08 L502.27 820.04 L504.28 820.00 L506.29 819.96 L508.30 819.93 L510.30 819.89 L512.31 819.86 L514.32 819.82 L516.33 819.79 L518.34 819.75 L520.35 819.72 L522.35 819.69 L524.36 819.65 L526.37 819.62 L528.38 819.59 L530.39 819.55 L532.40 819.52 L534.40 819.49 L536.41 819.45 L538.42 819.42 L540.43 819.38 L542.44 819.35 L544.45 819.31 L546.45 819.28 L548.46 819.24 L550.47 819.20 L552.48 819.17 L554.49 819.13 L556.50 819.10 L558.51 819.06 L560.51 819.02 L562.52 818.99 L564.53 818.95 L566.54 818.92 L568.55 818.88 L570.56 818.85 L572.56 818.81 L574.57 818.78 L576.58 818.75 L578.59 818.71 L580.60 818.68 L582.61 818.64 L584.61 818.61 L586.62 818.57 L588.63 818.54 L590.64 818.51 L592.65 818.47 L594.66 818.44 L596.66 818.40 L598.67 818.36 L600.68 818.33 L602.69 818.29 L604.70 818.25 L606.71 818.22 L608.71 818.18 L610.72 818.14 L612.73 818.11 L614.74 818.07 L616.75 818.03 L618.76 818.00 L620.76 817.96 L622.77 817.93 L624.78 817.89 L626.79 817.86 L628.80 817.82 L630.81 817.79 L632.81 817.76 L634.82 817.73 L636.83 817.70 L638.84 817.67 L640.85 817.64 L642.86 817.62 L644.86 817.59 L646.87 817.57 L648.88 817.54 L650.89 817.52 L652.90 817.50 L654.91 817.48 L656.91 817.46 L658.92 817.44 L660.93 817.43 L662.94 817.41 L664.95 817.40 L666.96 817.39 L668.96 817.37 L670.97 817.36 L672.98 817.35 L674.99 817.34 L677.00 817.34 L679.01 817.33 L681.02 817.32 L683.02 817.31 L685.03 817.30 L687.04 817.30 L689.05 817.29 L691.06 817.28 L693.07 817.27 L695.07 817.26 L697.08 817.25 L699.09 817.25 L701.10 817.24 L703.11 817.23 L705.12 817.21 L707.12 817.20 L709.13 817.19 L711.14 817.18 L713.15 817.17 L715.16 817.16 L717.17 817.15 L719.17 817.14 L721.18 817.12 L723.19 817.11 L725.20 817.10 L727.21 817.09 L729.22 817.08 L731.22 817.06 L733.23 817.05 L735.24 817.04 L737.25 817.03 L739.26 817.02 L741.27 817.00 L743.27 816.99 L745.28 816.98 L747.29 816.97 L749.30 816.95 L751.31 816.94 L753.32 816.93 L755.32 816.91 L757.33 816.90 L759.34 816.89 L761.35 816.87 L763.36 816.86 L765.37 816.84 L767.37 816.83 L769.38 816.81 L771.39 816.80 L773.40 816.78 L775.41 816.76 L777.42 816.74 L779.42 816.73 L781.43 816.70 L783.44 816.68 L785.45 816.66 L787.46 816.64 L789.47 816.61 L791.47 816.58 L793.48 816.56 L795.49 816.53 L797.50 816.50" stroke="#0000ff" stroke-width="2.85" stroke-dasharray="15.3 16.19" fill="none" stroke-linejoin="round"/>
<path d="M197.00 836.90 L199.01 836.74 L201.02 836.58 L203.03 836.42 L205.03 836.25 L207.04 836.08 L209.05 835.91 L211.06 835.74 L213.07 835.57 L215.08 835.39 L217.08 835.21 L219.09 835.02 L221.10 834.83 L223.11 834.63 L225.12 834.43 L227.13 834.22 L229.13 834.01 L231.14 833.80 L233.15 833.59 L235.16 833.38 L237.17 833.17 L239.18 832.95 L241.18 832.74 L243.19 832.54 L245.20 832.33 L247.21 832.13 L249.22 831.94 L251.23 831.75 L253.23 831.56 L255.24 831.39 L257.25 831.21 L259.26 831.05 L261.27 830.89 L263.28 830.73 L265.28 830.58 L267.29 830.43 L269.30 830.28 L271.31 830.14 L273.32 830.00 L275.33 829.86 L277.33 829.72 L279.34 829.59 L281.35 829.45 L283.36 829.32 L285.37 829.19 L287.38 829.06 L289.38 828.92 L291.39 828.79 L293.40 828.66 L295.41 828.53 L297.42 828.40 L299.43 828.27 L301.43 828.14 L303.44 828.01 L305.45 827.88 L307.46 827.75 L309.47 827.61 L311.48 827.48 L313.48 827.35 L315.49 827.22 L317.50 827.09 L319.51 826.96 L321.52 826.83 L323.53 826.70 L325.54 826.58 L327.54 826.45 L329.55 826.32 L331.56 826.19 L333.57 826.07 L335.58 825.94 L337.59 825.82 L339.59 825.70 L341.60 825.58 L343.61 825.46 L345.62 825.34 L347.63 825.22 L349.64 825.11 L351.64 825.00 L353.65 824.89 L355.66 824.78 L357.67 824.67 L359.68 824.57 L361.69 824.46 L363.69 824.36 L365.70 824.26 L367.71 824.17 L369.72 824.07 L371.73 823.98 L373.74 823.89 L375.74 823.80 L377.75 823.72 L379.76 823.63 L381.77 823.55 L383.78 823.47 L385.79 823.39 L387.79 823.31 L389.80 823.24 L391.81 823.17 L393.82 823.09 L395.83 823.02 L397.84 822.95 L399.84 822.88 L401.85 822.82 L403.86 822.75 L405.87 822.68 L407.88 822.62 L409.89 822.55 L411.89 822.49 L413.90 822.42 L415.91 822.36 L417.92 822.29 L419.93 822.23 L421.94 822.17 L423.94 822.10 L425.95 822.04 L427.96 821.98 L429.97 821.92 L431.98 821.85 L433.99 821.79 L435.99 821.73 L438.00 821.67 L440.01 821.61 L442.02 821.55 L444.03 821.49 L446.04 821.43 L448.05 821.37 L450.05 821.32 L452.06 821.26 L454.07 821.20 L456.08 821.14 L458.09 821.09 L460.10 821.03 L462.10 820.98 L464.11 820.92 L466.12 820.87 L468.13 820.82 L470.14 820.76 L472.15 820.71 L474.15 820.66 L476.16 820.61 L478.17 820.56 L480.18 820.51 L482.19 820.47 L484.20 820.42 L486.20 820.37 L488.21 820.33 L490.22 820.29 L492.23 820.24 L494.24 820.20 L496.25 820.16 L498.25 820.12 L500.26 820.08 L502.27 820.04 L504.28 820.00 L506.29 819.96 L508.30 819.93 L510.30 819.89 L512.31 819.86 L514.32 819.82 L516.33 819.79 L518.34 819.75 L520.35 819.72 L522.35 819.69 L524.36 819.65 L526.37 819.62 L528.38 819.59 L530.39 819.55 L532.40 819.52 L534.40 819.49 L536.41 819.45 L538.42 819.42 L540.43 819.38 L542.44 819.35 L544.45 819.31 L546.45 819.28 L548.46 819.24 L550.47 819.20 L552.48 819.17 L554.49 819.13 L556.50 819.10 L558.51 819.06 L560.51 819.02 L562.52 818.99 L564.53 818.95 L566.54 818.92 L568.55 818.88 L570.56 818.85 L572.56 818.81 L574.57 818.78 L576.58 818.75 L578.59 818.71 L580.60 818.68 L582.61 818.64 L584.61 818.61 L586.62 818.57 L588.63 818.54 L590.64 818.51 L592.65 818.47 L594.66 818.44 L596.66 818.40 L598.67 818.36 L600.68 818.33 L602.69 818.29 L604.70 818.25 L606.71 818.22 L608.71 818.18 L610.72 818.14 L612.73 818.11 L614.74 818.07 L616.75 818.03 L618.76 818.00 L620.76 817.96 L622.77 817.93 L624.78 817.89 L626.79 817.86 L628.80 817.82 L630.81 817.79 L632.81 817.76 L634.82 817.73 L636.83 817.70 L638.84 817.67 L640.85 817.64 L642.86 817.62 L644.86 817.59 L646.87 817.57 L648.88 817.54 L650.89 817.52 L652.90 817.50 L654.91 817.48 L656.91 817.46 L658.92 817.44 L660.93 817.43 L662.94 817.41 L664.95 817.40 L666.96 817.39 L668.96 817.37 L670.97 817.36 L672.98 817.35 L674.99 817.34 L677.00 817.34 L679.01 817.33 L681.02 817.32 L683.02 817.31 L685.03 817.30 L687.04 817.30 L689.05 817.29 L691.06 817.28 L693.07 817.27 L695.07 817.26 L697.08 817.25 L699.09 817.25 L701.10 817.24 L703.11 817.23 L705.12 817.21 L707.12 817.20 L709.13 817.19 L711.14 817.18 L713.15 817.17 L715.16 817.16 L717.17 817.15 L719.17 817.14 L721.18 817.12 L723.19 817.11 L725.20 817.10 L727.21 817.09 L729.22 817.08 L731.22 817.06 L733.23 817.05 L735.24 817.04 L737.25 817.03 L739.26 817.02 L741.27 817.00 L743.27 816.99 L745.28 816.98 L747.29 816.97 L749.30 816.95 L751.31 816.94 L753.32 816.93 L755.32 816.91 L757.33 816.90 L759.34 816.89 L761.35 816.87 L763.36 816.86 L765.37 816.84 L767.37 816.83 L769.38 816.81 L771.39 816.80 L773.40 816.78 L775.41 816.76 L777.42 816.74 L779.42 816.73 L781.43 816.70 L783.44 816.68 L785.45 816.66 L787.46 816.64 L789.47 816.61 L791.47 816.58 L793.48 816.56 L795.49 816.53 L797.50 816.50" stroke="#0000ff" stroke-width="5.3" stroke-linecap="round" stroke-dasharray="0.01 31.48" stroke-dashoffset="-23.3" fill="none"/>
<path d="M197.00 569.10 L199.01 568.88 L201.02 568.77 L203.03 568.88 L205.03 569.26 L207.04 569.97 L209.05 571.01 L211.06 572.39 L213.07 574.11 L215.08 576.15 L217.08 578.49 L219.09 581.09 L221.10 583.93 L223.11 586.97 L225.12 590.20 L227.13 593.58 L229.13 597.10 L231.14 600.77 L233.15 604.57 L235.16 608.47 L237.17 612.45 L239.18 616.48 L241.18 620.51 L243.19 624.56 L245.20 628.60 L247.21 632.64 L249.22 636.66 L251.23 640.67 L253.23 644.65 L255.24 648.61 L257.25 652.54 L259.26 656.44 L261.27 660.31 L263.28 664.15 L265.28 667.95 L267.29 671.72 L269.30 675.44 L271.31 679.13 L273.32 682.78 L275.33 686.40 L277.33 689.99 L279.34 693.56 L281.35 697.10 L283.36 700.63 L285.37 704.13 L287.38 707.59 L289.38 711.02 L291.39 714.40 L293.40 717.73 L295.41 721.00 L297.42 724.20 L299.43 727.33 L301.43 730.39 L303.44 733.38 L305.45 736.31 L307.46 739.16 L309.47 741.95 L311.48 744.68 L313.48 747.35 L315.49 749.96 L317.50 752.51 L319.51 755.01 L321.52 757.45 L323.53 759.84 L325.54 762.18 L327.54 764.48 L329.55 766.73 L331.56 768.93 L333.57 771.09 L335.58 773.21 L337.59 775.29 L339.59 777.32 L341.60 779.32 L343.61 781.29 L345.62 783.22 L347.63 785.11 L349.64 786.97 L351.64 788.79 L353.65 790.57 L355.66 792.31 L357.67 794.02 L359.68 795.69 L361.69 797.31 L363.69 798.90 L365.70 800.44 L367.71 801.94 L369.72 803.40 L371.73 804.82 L373.74 806.20 L375.74 807.54 L377.75 808.84 L379.76 810.11 L381.77 811.34 L383.78 812.54 L385.79 813.72 L387.79 814.87 L389.80 816.00 L391.81 817.12 L393.82 818.21 L395.83 819.28 L397.84 820.33 L399.84 821.36 L401.85 822.36 L403.86 823.34 L405.87 824.30 L407.88 825.24 L409.89 826.15 L411.89 827.05 L413.90 827.94 L415.91 828.80 L417.92 829.65 L419.93 830.49 L421.94 831.31 L423.94 832.13 L425.95 832.93 L427.96 833.73 L429.97 834.51 L431.98 835.27 L433.99 836.01 L435.99 836.72 L438.00 837.42 L440.01 838.10 L442.02 838.75 L444.03 839.39 L446.04 840.00 L448.05 840.60 L450.05 841.17 L452.06 841.73 L454.07 842.28 L456.08 842.82 L458.09 843.34 L460.10 843.85 L462.10 844.35 L464.11 844.84 L466.12 845.32 L468.13 845.79 L470.14 846.25 L472.15 846.70 L474.15 847.14 L476.16 847.57 L478.17 847.98 L480.18 848.39 L482.19 848.79 L484.20 849.18 L486.20 849.55 L488.21 849.92 L490.22 850.28 L492.23 850.63 L494.24 850.97 L496.25 851.30 L498.25 851.62 L500.26 851.93 L502.27 852.24 L504.28 852.54 L506.29 852.82 L508.30 853.10 L510.30 853.38 L512.31 853.64 L514.32 853.90 L516.33 854.14 L518.34 854.38 L520.35 854.61 L522.35 854.84 L524.36 855.05 L526.37 855.26 L528.38 855.46 L530.39 855.66 L532.40 855.84 L534.40 856.02 L536.41 856.19 L538.42 856.36 L540.43 856.52 L542.44 856.67 L544.45 856.81 L546.45 856.95 L548.46 857.09 L550.47 857.21 L552.48 857.33 L554.49 857.45 L556.50 857.56 L558.51 857.66 L560.51 857.76 L562.52 857.85 L564.53 857.94 L566.54 858.02 L568.55 858.10 L570.56 858.18 L572.56 858.25 L574.57 858.32 L576.58 858.38 L578.59 858.45 L580.60 858.51 L582.61 858.57 L584.61 858.62 L586.62 858.68 L588.63 858.73 L590.64 858.78 L592.65 858.83 L594.66 858.88 L596.66 858.93 L598.67 858.97 L600.68 859.01 L602.69 859.05 L604.70 859.09 L606.71 859.12 L608.71 859.14 L610.72 859.16 L612.73 859.17 L614.74 859.17 L616.75 859.16 L618.76 859.15 L620.76 859.13 L622.77 859.10 L624.78 859.07 L626.79 859.03 L628.80 858.99 L630.81 858.94 L632.81 858.88 L634.82 858.83 L636.83 858.77 L638.84 858.71 L640.85 858.65 L642.86 858.60 L644.86 858.55 L646.87 858.50 L648.88 858.45 L650.89 858.41 L652.90 858.37 L654.91 858.32 L656.91 858.29 L658.92 858.25 L660.93 858.21 L662.94 858.17 L664.95 858.13 L666.96 858.10 L668.96 858.06 L670.97 858.02 L672.98 857.98 L674.99 857.95 L677.00 857.90 L679.01 857.86 L681.02 857.82 L683.02 857.77 L685.03 857.73 L687.04 857.68 L689.05 857.63 L691.06 857.58 L693.07 857.52 L695.07 857.47 L697.08 857.41 L699.09 857.35 L701.10 857.29 L703.11 857.22 L705.12 857.16 L707.12 857.09 L709.13 857.02 L711.14 856.95 L713.15 856.87 L715.16 856.80 L717.17 856.72 L719.17 856.64 L721.18 856.56 L723.19 856.47 L725.20 856.39 L727.21 856.30 L729.22 856.21 L731.22 856.12 L733.23 856.03 L735.24 855.94 L737.25 855.84 L739.26 855.75 L741.27 855.65 L743.27 855.56 L745.28 855.47 L747.29 855.37 L749.30 855.28 L751.31 855.18 L753.32 855.09 L755.32 854.99 L757.33 854.90 L759.34 854.81 L761.35 854.71 L763.36 854.62 L765.37 854.53 L767.37 854.44 L769.38 854.35 L771.39 854.26 L773.40 854.17 L775.41 854.08 L777.42 853.99 L779.42 853.90 L781.43 853.81 L783.44 853.72 L785.45 853.63 L787.46 853.54 L789.47 853.45 L791.47 853.37 L793.48 853.28 L795.49 853.19 L797.50 853.10" stroke="#000" stroke-width="2.6" fill="none" stroke-linejoin="round"/>
</g>
<text transform="translate(183.70 50.50) scale(1.05 1.085)" font-size="36.7" text-anchor="end" fill="#000">60</text>
<text transform="translate(183.70 86.93) scale(1.05 1.085)" font-size="36.7" text-anchor="end" fill="#000">50</text>
<text transform="translate(183.70 123.37) scale(1.05 1.085)" font-size="36.7" text-anchor="end" fill="#000">40</text>
<text transform="translate(183.70 159.80) scale(1.05 1.085)" font-size="36.7" text-anchor="end" fill="#000">30</text>
<text transform="translate(183.70 196.23) scale(1.05 1.085)" font-size="36.7" text-anchor="end" fill="#000">20</text>
<clipPath id="k1"><rect x="-77.53" y="-47.71" width="114.23" height="42.96"/><rect x="-32.38" y="-5.25" width="5.28" height="6.25"/><rect x="-20.41" y="-5.25" width="21.15" height="19.93"/></clipPath>
<text transform="translate(183.70 232.67) scale(1.05 1.085)" font-size="36.7" text-anchor="end" fill="#000" clip-path="url(#k1)">10</text>
<text transform="translate(183.70 269.10) scale(1.05 1.085)" font-size="36.7" text-anchor="end" fill="#000">0</text>
<clipPath id="k2"><rect x="-89.75" y="-47.71" width="126.45" height="42.96"/><rect x="-53.78" y="-5.25" width="13.69" height="19.93"/><rect x="-32.38" y="-5.25" width="5.28" height="6.25"/><rect x="-20.41" y="-5.25" width="21.15" height="19.93"/></clipPath>
<text transform="translate(183.70 305.53) scale(1.05 1.085)" font-size="36.7" text-anchor="end" fill="#000" clip-path="url(#k2)">-10</text>
<text transform="translate(183.70 341.97) scale(1.05 1.085)" font-size="36.7" text-anchor="end" fill="#000">-20</text>
<text transform="translate(183.70 378.40) scale(1.05 1.085)" font-size="36.7" text-anchor="end" fill="#000">-30</text>
<text transform="translate(183.70 414.83) scale(1.05 1.085)" font-size="36.7" text-anchor="end" fill="#000">-40</text>
<text transform="translate(183.70 451.27) scale(1.05 1.085)" font-size="36.7" text-anchor="end" fill="#000">-50</text>
<text transform="translate(183.70 487.70) scale(1.05 1.085)" font-size="36.7" text-anchor="end" fill="#000">-60</text>
<text transform="translate(183.70 566.30) scale(1.05 1.085)" font-size="36.7" text-anchor="end" fill="#000">30</text>
<text transform="translate(183.70 653.74) scale(1.05 1.085)" font-size="36.7" text-anchor="end" fill="#000">20</text>
<clipPath id="k3"><rect x="-77.53" y="-47.71" width="114.23" height="42.96"/><rect x="-32.38" y="-5.25" width="5.28" height="6.25"/><rect x="-20.41" y="-5.25" width="21.15" height="19.93"/></clipPath>
<text transform="translate(183.70 741.18) scale(1.05 1.085)" font-size="36.7" text-anchor="end" fill="#000" clip-path="url(#k3)">10</text>
<text transform="translate(183.70 828.62) scale(1.05 1.085)" font-size="36.7" text-anchor="end" fill="#000">0</text>
<clipPath id="k4"><rect x="-89.75" y="-47.71" width="126.45" height="42.96"/><rect x="-53.78" y="-5.25" width="13.69" height="19.93"/><rect x="-32.38" y="-5.25" width="5.28" height="6.25"/><rect x="-20.41" y="-5.25" width="21.15" height="19.93"/></clipPath>
<text transform="translate(183.70 916.06) scale(1.05 1.085)" font-size="36.7" text-anchor="end" fill="#000" clip-path="url(#k4)">-10</text>
<text transform="translate(183.70 1003.50) scale(1.05 1.085)" font-size="36.7" text-anchor="end" fill="#000">-20</text>
<text transform="translate(197.00 1031.60) scale(1.05 1.085)" font-size="36.7" text-anchor="middle" fill="#000">0</text>
<text transform="translate(397.20 1031.60) scale(1.05 1.085)" font-size="36.7" text-anchor="middle" fill="#000">2</text>
<text transform="translate(597.40 1031.60) scale(1.05 1.085)" font-size="36.7" text-anchor="middle" fill="#000">4</text>
<text transform="translate(797.60 1031.60) scale(1.05 1.085)" font-size="36.7" text-anchor="middle" fill="#000">6</text>
<text transform="translate(469.20 1087.60) scale(1.0 1.04)" font-size="49.1" text-anchor="start" fill="#000">Q</text>
<text transform="translate(506.00 1064.10)" font-size="35.5" text-anchor="start" fill="#000">2</text>
<text transform="translate(649.30 1087.60) scale(1.0 1.04)" font-size="48.6" text-anchor="start" fill="#000">(GeV</text>
<text transform="translate(762.40 1064.10)" font-size="35.5" text-anchor="start" fill="#000">2</text>
<text transform="translate(783.00 1087.60) scale(1.0 1.04)" font-size="48.6" text-anchor="start" fill="#000">)</text>
<rect x="510" y="0" width="7.6" height="6.8" fill="#000"/><rect x="539.7" y="0" width="7.4" height="6.8" fill="#000"/>
<text transform="translate(447.03 138.40) scale(1.0 1.03)" font-size="38.3" text-anchor="start" fill="#000">P</text>
<clipPath id="k5"><rect x="-26.30" y="-34.19" width="81.86" height="30.50"/><rect x="6.02" y="-4.19" width="3.85" height="5.19"/><rect x="20.65" y="-4.19" width="3.85" height="5.19"/></clipPath>
<text transform="translate(472.31 151.40) scale(1.0 1.03)" font-size="26.3" text-anchor="start" fill="#000" clip-path="url(#k5)" stroke="#000" stroke-width="0.4">11</text>
<text transform="translate(500.99 138.40) scale(1.0 1.03)" font-size="38.3" text-anchor="start" fill="#000">(</text>
<clipPath id="k6"><rect x="-38.30" y="-49.79" width="161.81" height="44.88"/><rect x="8.82" y="-5.41" width="5.49" height="6.41"/><rect x="21.30" y="-5.41" width="22.07" height="20.73"/><rect x="41.84" y="-5.41" width="22.83" height="20.73"/><rect x="63.14" y="-5.41" width="22.83" height="20.73"/></clipPath>
<text transform="translate(513.74 138.80) scale(1.0 1.075)" font-size="38.3" text-anchor="start" fill="#000" clip-path="url(#k6)">1660</text>
<text transform="translate(598.95 138.40) scale(1.0 1.03)" font-size="38.3" text-anchor="start" fill="#000">)</text>
<text transform="translate(276.83 674.00) scale(1.0 1.03)" font-size="38.3" text-anchor="start" fill="#000">P</text>
<clipPath id="k7"><rect x="-26.30" y="-34.19" width="81.86" height="30.50"/><rect x="6.02" y="-4.19" width="3.85" height="5.19"/><rect x="20.65" y="-4.19" width="3.85" height="5.19"/></clipPath>
<text transform="translate(302.11 687.00) scale(1.0 1.03)" font-size="26.3" text-anchor="start" fill="#000" clip-path="url(#k7)" stroke="#000" stroke-width="0.4">11</text>
<text transform="translate(330.78 674.00) scale(1.0 1.03)" font-size="38.3" text-anchor="start" fill="#000">(</text>
<clipPath id="k8"><rect x="-38.30" y="-49.79" width="161.81" height="44.88"/><rect x="8.82" y="-5.41" width="5.49" height="6.41"/><rect x="21.30" y="-5.41" width="22.07" height="20.73"/><rect x="41.84" y="-5.41" width="22.83" height="20.73"/><rect x="63.14" y="-5.41" width="22.83" height="20.73"/></clipPath>
<text transform="translate(343.54 674.40) scale(1.0 1.075)" font-size="38.3" text-anchor="start" fill="#000" clip-path="url(#k8)">1660</text>
<text transform="translate(428.75 674.00) scale(1.0 1.03)" font-size="38.3" text-anchor="start" fill="#000">)</text>
<text transform="translate(236.83 318.80) scale(1.0 1.03)" font-size="38.3" text-anchor="start" fill="#0000ff">P</text>
<clipPath id="k9"><rect x="-26.30" y="-34.19" width="81.86" height="30.50"/><rect x="6.02" y="-4.19" width="3.85" height="5.19"/><rect x="20.65" y="-4.19" width="3.85" height="5.19"/></clipPath>
<text transform="translate(262.11 331.80) scale(1.0 1.03)" font-size="26.3" text-anchor="start" fill="#0000ff" clip-path="url(#k9)" stroke="#0000ff" stroke-width="0.4">11</text>
<text transform="translate(267.48 305.30)" font-size="26.5" text-anchor="start" fill="#0000ff">(3)</text>
<text transform="translate(347.23 400.50) scale(1.0 1.03)" font-size="38.3" text-anchor="start" fill="#b40000">P</text>
<clipPath id="k10"><rect x="-26.30" y="-34.19" width="81.86" height="30.50"/><rect x="6.02" y="-4.19" width="3.85" height="5.19"/><rect x="20.65" y="-4.19" width="3.85" height="5.19"/></clipPath>
<text transform="translate(372.51 413.50) scale(1.0 1.03)" font-size="26.3" text-anchor="start" fill="#b40000" clip-path="url(#k10)" stroke="#b40000" stroke-width="0.4">11</text>
<text transform="translate(377.88 387.00)" font-size="26.5" text-anchor="start" fill="#b40000">(2)</text>
<text transform="translate(446.93 800.80) scale(1.0 1.03)" font-size="38.3" text-anchor="start" fill="#0000ff">P</text>
<clipPath id="k11"><rect x="-26.30" y="-34.19" width="81.86" height="30.50"/><rect x="6.02" y="-4.19" width="3.85" height="5.19"/><rect x="20.65" y="-4.19" width="3.85" height="5.19"/></clipPath>
<text transform="translate(472.21 813.80) scale(1.0 1.03)" font-size="26.3" text-anchor="start" fill="#0000ff" clip-path="url(#k11)" stroke="#0000ff" stroke-width="0.4">11</text>
<text transform="translate(477.57 787.30)" font-size="26.5" text-anchor="start" fill="#0000ff">(3)</text>
<text transform="translate(266.93 936.00) scale(1.0 1.03)" font-size="38.3" text-anchor="start" fill="#b40000">P</text>
<clipPath id="k12"><rect x="-26.30" y="-34.19" width="81.86" height="30.50"/><rect x="6.02" y="-4.19" width="3.85" height="5.19"/><rect x="20.65" y="-4.19" width="3.85" height="5.19"/></clipPath>
<text transform="translate(292.21 949.00) scale(1.0 1.03)" font-size="26.3" text-anchor="start" fill="#b40000" clip-path="url(#k12)" stroke="#b40000" stroke-width="0.4">11</text>
<text transform="translate(297.57 922.50)" font-size="26.5" text-anchor="start" fill="#b40000">(2)</text>
<text transform="translate(67.30 418.21) rotate(-90) scale(1.0 1.079)" font-size="48.5" text-anchor="start" fill="#000">A</text>
<clipPath id="k13"><rect x="-35.00" y="-45.50" width="118.66" height="40.93"/><rect x="8.05" y="-5.07" width="5.04" height="6.07"/><rect x="19.47" y="-5.07" width="10.42" height="19.07"/><rect x="28.49" y="-5.07" width="20.87" height="19.07"/></clipPath>
<text transform="translate(84.30 384.31) rotate(-90) scale(1.0 1.01)" font-size="35.0" text-anchor="start" fill="#000" clip-path="url(#k13)">1/2</text>
<clipPath id="k14"><rect x="-48.50" y="-63.05" width="167.10" height="57.10"/><rect x="-0.97" y="-6.45" width="18.09" height="25.85"/><rect x="27.35" y="-6.45" width="6.89" height="7.45"/><rect x="43.13" y="-6.45" width="27.95" height="25.85"/></clipPath>
<text transform="translate(67.30 309.52) rotate(-90) scale(1.0 1.079)" font-size="48.5" text-anchor="start" fill="#000" clip-path="url(#k14)">(10</text>
<text transform="translate(43.10 239.17) rotate(-90) scale(1.0 1.01)" font-size="35.0" text-anchor="start" fill="#000">-3</text>
<text transform="translate(67.30 208.49) rotate(-90) scale(1.0 1.079)" font-size="48.5" text-anchor="start" fill="#000">GeV</text>
<clipPath id="k15"><rect x="-35.00" y="-45.50" width="130.31" height="40.93"/><rect x="-0.70" y="-5.07" width="13.05" height="19.07"/><rect x="19.70" y="-5.07" width="5.04" height="6.07"/><rect x="31.12" y="-5.07" width="10.42" height="19.07"/><rect x="40.14" y="-5.07" width="20.87" height="19.07"/></clipPath>
<text transform="translate(43.10 111.87) rotate(-90) scale(1.0 1.01)" font-size="35.0" text-anchor="start" fill="#000" clip-path="url(#k15)">-1/2</text>
<text transform="translate(67.30 51.20) rotate(-90) scale(1.0 1.079)" font-size="48.5" text-anchor="start" fill="#000">)</text>
<text transform="translate(67.30 935.02) rotate(-90) scale(1.0 1.079)" font-size="48.5" text-anchor="start" fill="#000">C</text>
<clipPath id="k16"><rect x="-35.00" y="-45.50" width="118.66" height="40.93"/><rect x="8.05" y="-5.07" width="5.04" height="6.07"/><rect x="19.47" y="-5.07" width="10.42" height="19.07"/><rect x="28.49" y="-5.07" width="20.87" height="19.07"/></clipPath>
<text transform="translate(84.30 901.30) rotate(-90) scale(1.0 1.01)" font-size="35.0" text-anchor="start" fill="#000" clip-path="url(#k16)">1/2</text>
<clipPath id="k17"><rect x="-48.50" y="-63.05" width="167.10" height="57.10"/><rect x="-0.97" y="-6.45" width="18.09" height="25.85"/><rect x="27.35" y="-6.45" width="6.89" height="7.45"/><rect x="43.13" y="-6.45" width="27.95" height="25.85"/></clipPath>
<text transform="translate(67.30 826.52) rotate(-90) scale(1.0 1.079)" font-size="48.5" text-anchor="start" fill="#000" clip-path="url(#k17)">(10</text>
<text transform="translate(43.10 756.16) rotate(-90) scale(1.0 1.01)" font-size="35.0" text-anchor="start" fill="#000">-3</text>
<text transform="translate(67.30 725.49) rotate(-90) scale(1.0 1.079)" font-size="48.5" text-anchor="start" fill="#000">GeV</text>
<clipPath id="k18"><rect x="-35.00" y="-45.50" width="130.31" height="40.93"/><rect x="-0.70" y="-5.07" width="13.05" height="19.07"/><rect x="19.70" y="-5.07" width="5.04" height="6.07"/><rect x="31.12" y="-5.07" width="10.42" height="19.07"/><rect x="40.14" y="-5.07" width="20.87" height="19.07"/></clipPath>
<text transform="translate(43.10 628.87) rotate(-90) scale(1.0 1.01)" font-size="35.0" text-anchor="start" fill="#000" clip-path="url(#k18)">-1/2</text>
<text transform="translate(67.30 568.20) rotate(-90) scale(1.0 1.079)" font-size="48.5" text-anchor="start" fill="#000">)</text>
</svg>
</body></html>
